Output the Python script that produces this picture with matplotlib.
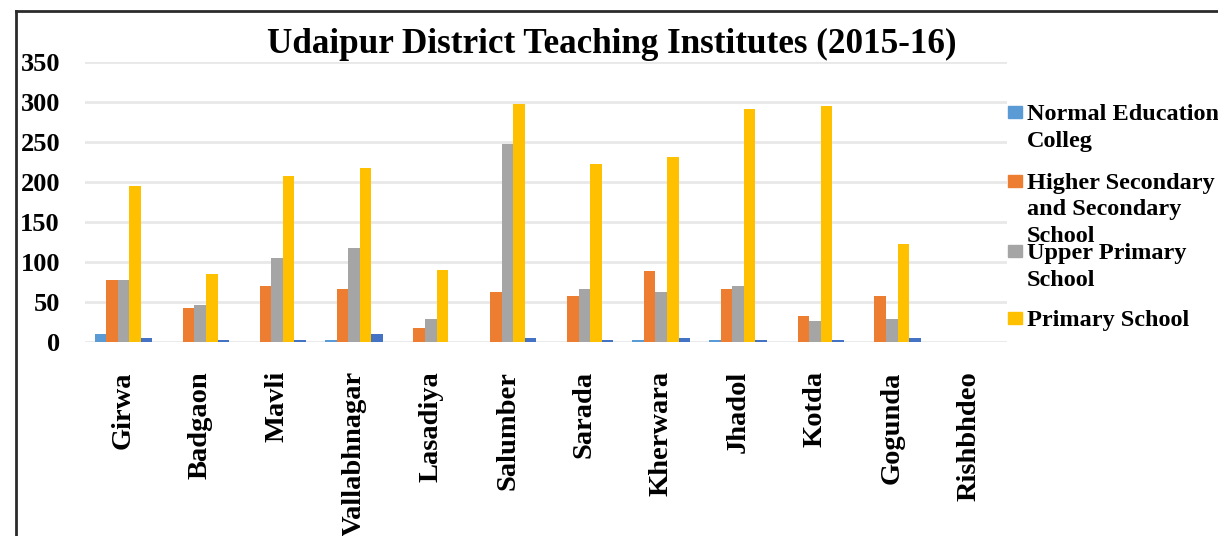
import matplotlib
matplotlib.use("Agg")
import matplotlib.pyplot as plt
import numpy as np
from matplotlib.patches import Rectangle
from matplotlib.lines import Line2D

plt.rcParams['font.family'] = ['Liberation Serif', 'DejaVu Serif']

blocks = ['Girwa', 'Badgaon', 'Mavli', 'Vallabhnagar', 'Lasadiya', 'Salumber',
          'Sarada', 'Kherwara', 'Jhadol', 'Kotda', 'Gogunda', 'Rishbhdeo']

normal_college = [10, 0, 0, 2, 0, 0, 0, 2, 2, 0, 0, 0]
higher_secondary = [78, 42, 70, 66, 18, 62, 58, 89, 66, 33, 58, 0]
upper_primary = [78, 46, 105, 118, 29, 247, 66, 62, 70, 26, 29, 0]
primary = [195, 85, 207, 218, 90, 297, 223, 231, 291, 295, 122, 0]
fifth = [5, 2, 2, 10, 0, 5, 2, 5, 2, 2, 5, 0]   # fifth series, no legend entry

series = [normal_college, higher_secondary, upper_primary, primary, fifth]
colors = ['#5B9BD5', '#ED7D31', '#A5A5A5', '#FFC000', '#4472C4']
legend_names = ['Normal Education\nColleg',
                'Higher Secondary\nand Secondary\nSchool',
                'Upper Primary\nSchool',
                'Primary School']

W, H = 1218, 536
fig = plt.figure(figsize=(W / 100, H / 100), dpi=100)


def fx(px):
    return px / W


def fy(py):
    return 1 - py / H


ax = fig.add_axes([fx(85), fy(342), fx(1007) - fx(85), fy(62) - fy(342)])

x = np.arange(len(blocks))
bw = 0.15
for i, (vals, c) in enumerate(zip(series, colors)):
    ax.bar(x + (i - 2) * bw, vals, width=bw, color=c, zorder=3)

ax.set_xlim(-0.5, len(blocks) - 0.5)
ax.set_ylim(0, 350)
ax.set_yticks(range(0, 351, 50))
ax.yaxis.grid(True, color='#E8E8E8', lw=2)
ax.set_axisbelow(True)
for s in ax.spines.values():
    s.set_visible(False)
ax.tick_params(length=0)
ax.tick_params(axis='y', pad=18, labelsize=19)
ax.set_xticks(x)
ax.set_xticklabels(blocks, rotation=90, fontsize=20.5, fontweight='bold', va='top')
ax.tick_params(axis='x', pad=21)
for t in ax.get_yticklabels():
    t.set_fontweight('bold')

fig.text(fx(612), fy(53), 'Udaipur District Teaching Institutes (2015-16)',
         ha='center', va='baseline', fontsize=25.3, fontweight='bold')

# legend drawn by hand, lines stacked tightly
marker_tops = [106, 175, 245, 312]
for top, name, c in zip(marker_tops, legend_names, colors):
    fig.add_artist(Rectangle((fx(1008), fy(top + 12)), fx(14), fy(top) - fy(top + 12),
                             transform=fig.transFigure, color=c))
    for k, line in enumerate(name.split('\n')):
        fig.text(fx(1027), fy(top + 14 + k * 26.5), line, ha='left', va='baseline',
                 fontsize=17.5, fontweight='bold')

# chart frame
fig.add_artist(Line2D([fx(16), fx(16)], [fy(11), 0], transform=fig.transFigure,
                      color='#2B2B2B', lw=2))
fig.add_artist(Line2D([fx(16), 1], [fy(11), fy(11)], transform=fig.transFigure,
                      color='#2B2B2B', lw=2))

fig.savefig('out.png', dpi=100)
